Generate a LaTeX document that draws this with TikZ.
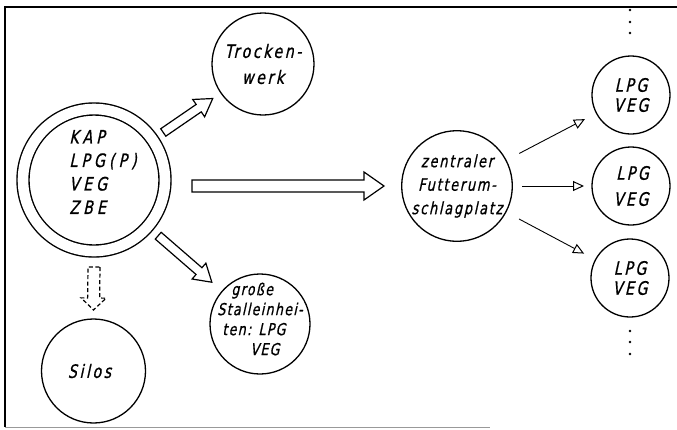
\documentclass[tikz,border=0pt]{standalone}
\usepackage{fontspec}
\usetikzlibrary{calc,arrows.meta}
\newfontfamily\dinM[FakeSlant=0.22,FakeStretch=0.85,FakeBold=0.8,LetterSpace=22]{DejaVu Sans Condensed}
\newfontfamily\dinT[FakeSlant=0.22,FakeStretch=0.85,FakeBold=0.8,LetterSpace=8]{DejaVu Sans Condensed}
\newfontfamily\dinW[FakeSlant=0.22,FakeStretch=0.85,FakeBold=0.8,LetterSpace=14]{DejaVu Sans Condensed}
\newfontfamily\dinZ[FakeSlant=0.22,FakeStretch=0.85,FakeBold=0.8,LetterSpace=10]{DejaVu Sans Condensed}
\newfontfamily\dinL[FakeSlant=0.22,FakeStretch=0.85,FakeBold=0.8,LetterSpace=14]{DejaVu Sans Condensed}
% #1 options, #2 name, #3 start, #4 tip, #5 half shaft, #6 half head, #7 head length
\newcommand\fatarrow[7][]{%
  \coordinate (#2b) at ($(#4)!#7!(#3)$);
  \draw[#1] ($(#3)!#5!90:(#4)$) -- ($(#2b)!#5!-90:(#3)$) -- ($(#2b)!#6!-90:(#3)$)
    -- (#4) -- ($(#2b)!#6!90:(#3)$) -- ($(#2b)!#5!90:(#3)$) -- ($(#3)!#5!-90:(#4)$) -- cycle;}
\begin{document}
\begin{tikzpicture}[x=1pt,y=-1pt,
  circ/.style={draw, circle, line width=1.3pt, inner sep=0pt, outer sep=0pt, align=center},
  fat/.style={line width=1.2pt, line join=miter},
  thinarrow/.style={line width=0.9pt, -{Triangle[open, length=11pt, width=10pt, line width=1pt]}},
  frame/.style={line width=1.2pt}]
\useasboundingbox (0,0) rectangle (677,429);
% frame
\draw[frame] (677,7) -- (5,7) -- (5,427);
\draw[line width=1pt, black!40] (5,427) -- (490,427);
% nodes
\node[circ, minimum size=142pt, double, double distance=10.6pt, line width=1.4pt] (main) at (94,180) {};
\node[align=left, font=\dinM\fontsize{18.5}{23.5}\selectfont] (mainlbl) at ($(main.center)+(9,-8)$) {KAP\\LPG(P)\\VEG\\ZBE};
\node[circ, minimum size=102pt, font=\dinW\fontsize{18.5}{26}\selectfont] (trock) at (263,64) {Trocken-\\werk};
\node[circ, minimum size=104pt, font=\dinW\fontsize{18.5}{20}\selectfont] (silos) at (93.5,371) {\hspace*{-8pt}Silos};
\node[circ, minimum size=100pt] (gross) at (260,324) {};
\node[align=left, font=\dinT\fontsize{16.5}{20}\selectfont] (grosslbl) at ($(gross.center)+(0,-5)$)
  {\hspace*{14pt}große\\Stalleinhei-\\\hspace*{5pt}ten: LPG\\\hspace*{33pt}VEG};
\node[circ, minimum size=104pt, font=\dinZ\fontsize{17}{23.5}\selectfont] (zen) at (457,186) {zentraler\\Futterum-\\schlagplatz};
\node[circ, minimum size=78pt, font=\dinL\fontsize{18.5}{20}\selectfont] (lpg1) at (631,95) {LPG\\VEG};
\node[circ, minimum size=78pt, font=\dinL\fontsize{18.5}{26}\selectfont] (lpg2) at (631,186) {\hspace*{3pt}LPG\\VEG};
\node[circ, minimum size=78pt, font=\dinL\fontsize{18.5}{20}\selectfont] (lpg3) at (630,278) {LPG\\VEG};
% dots
\foreach \yy in {10,22,33,331,342,354} \fill (630,\yy) circle (1.4pt);
% fat arrows
\coordinate (a1s) at ($(main.center)!84pt!(trock.center)$);
\coordinate (a1e) at ($(main.center)!144pt!(trock.center)$);
\fatarrow[fat]{a1}{a1s}{a1e}{4.5pt}{10.5pt}{17pt}
\coordinate (a2s) at ($(main.center)!85pt!(gross.center)$);
\coordinate (a2e) at ($(main.center)!156pt!(gross.center)$);
\fatarrow[fat]{a2}{a2s}{a2e}{4.5pt}{10.5pt}{17pt}
\coordinate (a3s) at ($(main.center)+(98,6)$);
\coordinate (a3e) at ($(zen.center)+(-73,0)$);
\fatarrow[fat]{a3}{a3s}{a3e}{6pt}{14pt}{20pt}
\coordinate (a4s) at ($(main.center)+(0,87)$);
\coordinate (a4e) at ($(silos.center)+(0,-61)$);
\fatarrow[fat, dash pattern=on 4pt off 2.5pt]{a4}{a4s}{a4e}{6pt}{12.5pt}{12pt}
% thin arrows
\draw[thinarrow, shorten <=15pt, shorten >=13pt] (zen) -- (lpg1);
\draw[thinarrow, shorten <=10pt, shorten >=8pt] (zen) -- (lpg2);
\draw[thinarrow, shorten <=15pt, shorten >=13pt] (zen) -- (lpg3);
\end{tikzpicture}
\end{document}
